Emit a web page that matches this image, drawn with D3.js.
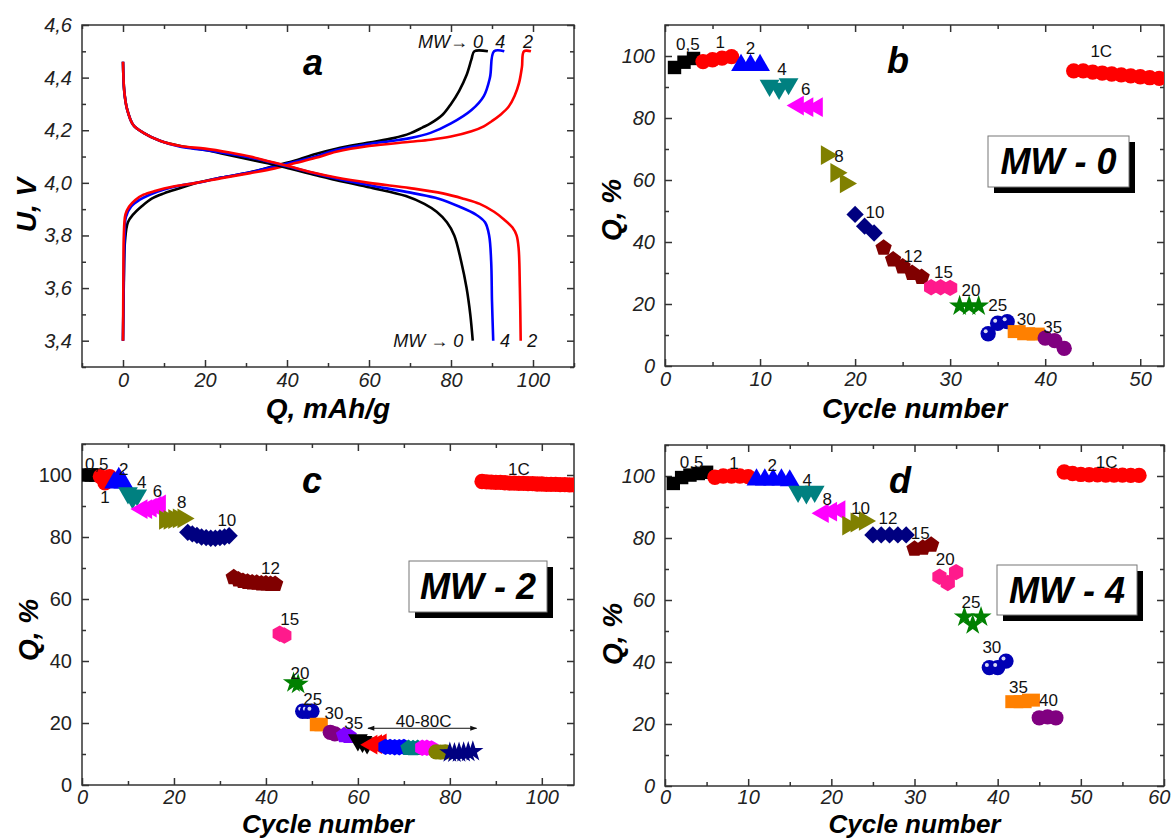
<!DOCTYPE html>
<html>
<head>
<meta charset="utf-8">
<script src="https://cdn.jsdelivr.net/npm/d3@7"></script>
<style>
  body { margin: 0; background: #fff; }
  svg text { font-family: "Liberation Sans", Arial, sans-serif; }
</style>
</head>
<body>
<script>
// ---- panel a: charge / discharge profiles, [Q mAh/g, U V] ----
var chargeMW0 = [[0,3.40],[0.2,3.62],[0.5,3.78],[1.2,3.85],[2.5,3.88],[4.5,3.91],[7,3.94],[10,3.96],[14,3.98],[18,4.0],[24,4.02],[31,4.04],[37,4.065],[42,4.085],[47,4.11],[52,4.13],[60,4.153],[66,4.17],[70,4.188],[73,4.21],[75,4.226],[78,4.26],[80,4.30],[82,4.35],[83.8,4.41],[85,4.47],[85.7,4.50],[89,4.50]];
var chargeMW4 = [[0,3.40],[0.2,3.65],[0.4,3.80],[0.7,3.87],[2,3.91],[4,3.935],[6.5,3.955],[10,3.975],[14,3.99],[18,4.0],[24,4.02],[31,4.04],[37,4.062],[42,4.08],[47,4.10],[52,4.125],[60,4.148],[66,4.16],[70,4.17],[75,4.19],[80,4.226],[85,4.277],[88,4.33],[89.5,4.40],[90.5,4.50],[93,4.50]];
var chargeMW2 = [[0,3.40],[0.1,3.65],[0.2,3.80],[0.6,3.88],[1.5,3.91],[3,3.935],[5,3.955],[8,3.97],[12,3.985],[18,4.0],[24,4.018],[31,4.037],[37,4.055],[42,4.075],[47,4.095],[52,4.118],[60,4.14],[70,4.156],[75,4.164],[80,4.176],[85,4.196],[88,4.215],[90,4.235],[92,4.258],[94,4.288],[95.5,4.33],[96.6,4.38],[97.3,4.44],[97.8,4.50],[99.5,4.50]];
var dischargeMW0 = [[0,4.46],[0.3,4.35],[1,4.28],[2.5,4.22],[5,4.19],[9,4.16],[14,4.14],[20,4.125],[26,4.105],[32,4.085],[38,4.065],[43,4.045],[48,4.025],[55,4.0],[61,3.98],[69,3.95],[73.5,3.92],[76.5,3.89],[79,3.85],[80.8,3.80],[82.5,3.70],[83.8,3.60],[84.7,3.50],[85.3,3.40]];
var dischargeMW4 = [[0,4.46],[0.3,4.35],[1,4.28],[2.5,4.22],[5,4.19],[9,4.16],[14,4.137],[20,4.125],[26,4.11],[32,4.093],[37,4.075],[42,4.055],[47,4.035],[57,4.0],[64,3.98],[71,3.96],[77,3.94],[82,3.91],[86,3.88],[88.3,3.85],[89.3,3.80],[89.8,3.70],[90,3.55],[90.3,3.40]];
var dischargeMW2 = [[0,4.46],[0.3,4.35],[1,4.28],[2.5,4.22],[5,4.19],[9,4.16],[14,4.14],[20,4.13],[26,4.115],[31,4.10],[36,4.08],[40,4.065],[46,4.04],[52,4.02],[60,4.0],[70,3.98],[78,3.96],[83,3.94],[87,3.92],[90.5,3.89],[93,3.86],[95,3.83],[96,3.80],[96.5,3.75],[96.8,3.60],[97,3.40]];
var curveColors = ['#000000', '#0000ff', '#ff0000'];

// ---- panel b: MW-0 rate capability ----
var bCycles = [[1,2,3],[4,5,6,7],[8,9,10],[11,12,13],[14,15,16],[17,18,19],[20,21,22],[23,24,25,26,27],[28,29,30],[31,32,33],[34,35,36],[37,38,39],[40,41,42],[43,44,45,46,47,48,49,50,51,52]];
var bQ = [[96.3,98,99.2],[98.2,98.8,99.3,99.8],[97,97,97],[90.5,89.5,91],[84,83.5,83.5],[68,62.3,58.9],[48.9,45.1,42.9],[38.1,34.3,32.1,30,28.7],[25.4,25.4,25.2],[19.4,19.4,19.4],[10.4,13.8,14.3],[11.1,10.4,10.3],[9,8.2,5.7],[95.2,95.2,94.8,94.5,94.2,93.9,93.6,93.3,93,92.8]];
var bLabels = [['0,5',2.4,104],['1',5.8,104.5],['2',9,102.6],['4',12.3,95.8],['6',14.8,89.3],['8',18.3,67.6],['10',22.1,49.8],['12',26.1,35.6],['15',29.3,30.2],['20',32.2,24.6],['25',35,19.7],['30',38,15.1],['35',40.8,12.5],['1C',45.9,101.7]];

// ---- panel c: MW-2 rate capability ----
var cCycles = [[1,2,3],[4,5,6],[7,8,9],[10,11,12],[13,14,15,16,17],[18,19,20,21,22],[23,24,25,26,27,28,29,30,31,32],[33,34,35,36,37,38,39,40,41,42],[43,44],[46,47],[48,49,50],[51,52],[54,55],[57,58],[60,61,62],[63,64,65],[66,67,68,69,70],[71,72,73],[74,75,76],[77,78,79],[80,81,82,83,84,85],
  [87,88,89,90,91,92,93,94,95,96,97,98,99,100,101,102,103,104,105,106,107]];
var cQ = [[100,100,100],[99.5,97.5,99.5],[97.5,99,97.5],[94.2,92.6,93.5],[89,89,89.5,90,90.5],[85.5,85.5,85.8,86,86],[81.5,81,80.5,80,79.8,79.6,79.6,79.8,80,80.4],[67,66.3,65.8,65.5,65.3,65.2,65,65,64.8,64.8],[48.8,48.2],[33,32.5],[23.8,23.8,23.8],[19.5,19.5],[17,16.5],[16,15.8],[14.5,14,13.5],[13,13.2,13.4],[12.3,12.3,12.2,12.2,12.3],[11.9,11.8,11.9],[12,12,11.8],[10.7,10.6,10.7],[10.4,10.3,10.4,10.5,10.6,10.8],
  [97.9,97.8,97.7,97.6,97.6,97.5,97.4,97.4,97.3,97.3,97.2,97.2,97.1,97.1,97.0,97.0,97.0,96.9,96.9,96.8,96.8]];
var cLabels = [['0,5',3.2,103.5],['1',5,92.8],['2',9.1,101.8],['4',13,97.6],['6',16.4,94.9],['8',21.7,91.4],['10',31.5,85.5],['12',41,69.9],['15',45.2,53.4],['20',47.4,36.2],['25',50.2,27.6],['30',54.8,23.1],['35',59.1,19.9],['40-80C',74.3,20.7],['1C',95,102]];
var cArrow = [[62.2,18.3],[85.8,18.3]];

// ---- panel d: MW-4 rate capability ----
var dCycles = [[1,2,3,4,5],[6,7,8,9,10],[11,12,13,14,15],[16,17,18],[19,20,21],[22,23,24],[25,26,27,28,29],[30,31,32],[33,34,35],[36,37,38],[39,40,41],[42,43,44],[45,46,47],[48,49,50,51,52,53,54,55,56,57]];
var dQ = [[97.6,99.5,100.3,100.8,101.2],[99.6,100,100,100,99.8],[98.8,98.8,98.8,98.8,98.5],[95,94.5,95],[88,88.5,89],[84,85,85.5],[81,81,81,81,81],[76.5,76.8,77.8],[67.5,65.5,69],[54.5,52,54.5],[38.2,38.2,40.3],[27.2,27.2,27.7],[22,22.3,22],[101.3,100.8,100.5,100.4,100.4,100.3,100.3,100.3,100.2,100.2]];
var dLabels = [['0,5',3.2,104.6],['1',8.3,104.3],['2',12.9,103.5],['4',17.1,98.7],['8',19.5,92.5],['10',23.5,89.6],['12',26.8,86.4],['15',30.7,81.7],['20',33.7,73.1],['25',36.8,59.5],['30',39.3,44.7],['35',42.5,32],['40',46.1,27.7],['1C',53.1,104.6]];

// marker style per group (shape, colour)
var styleBD = [['square','#000000'],['circle','#ff0000'],['tri','#0000ff'],['triDown','#008080'],['triLeft','#ff00ff'],['triRight','#808000'],['diamond','#000080'],['pentagon','#800000'],['hexagon','#ff1a8c'],['star','#008000'],['sphere','#0000b4'],['rect','#ff8000'],['circle','#800080'],['circle','#ff0000']];
var styleC = [['square','#000000'],['circle','#ff0000'],['tri','#0000ff'],['triDown','#008080'],['triLeft','#ff00ff'],['triRight','#808000'],['diamond','#000080'],['pentagon','#800000'],['hexagon','#ff1a8c'],['star','#008000'],['sphere','#0000b4'],['square','#ff8000'],['circle','#800080'],['pentagon','#8000ff'],['triDown','#000000'],['triLeft','#ff0000'],['hexagon','#0000ff'],['pentagon','#008080'],['hexagon','#ff00ff'],['circle','#808000'],['star','#000080'],['circle','#ff0000']];

var W = 1172, H = 839;
var svg = d3.select('body').append('svg').attr('width', W).attr('height', H);

function polygon(n) {
  return {
    draw: function(ctx, size) {
      var r = Math.sqrt(2 * size / (n * Math.sin(2 * Math.PI / n)));
      for (var i = 0; i < n; i++) {
        var a = -Math.PI / 2 + i * 2 * Math.PI / n;
        if (i === 0) ctx.moveTo(r * Math.cos(a), r * Math.sin(a));
        else ctx.lineTo(r * Math.cos(a), r * Math.sin(a));
      }
      ctx.closePath();
    }
  };
}
var wideRect = { draw: function(ctx, size) { ctx.rect(-9, -6.5, 18, 13); } };

function markerPath(shape) {
  var sym = d3.symbol();
  if (shape === 'square') return sym.type(d3.symbolSquare).size(180)();
  if (shape === 'circle' || shape === 'sphere') return sym.type(d3.symbolCircle).size(185)();
  if (shape.indexOf('tri') === 0) return sym.type(d3.symbolTriangle).size(170)();
  if (shape === 'diamond') return sym.type(d3.symbolSquare).size(150)();
  if (shape === 'pentagon') return sym.type(polygon(5)).size(175)();
  if (shape === 'hexagon') return sym.type(polygon(6)).size(175)();
  if (shape === 'star') return sym.type(d3.symbolStar).size(140)();
  return sym.type(wideRect)();
}
var rotation = { triDown: 180, triLeft: -90, triRight: 90, diamond: 45 };

function makePanel(o) {
  var g = svg.append('g');
  var x = d3.scaleLinear().domain(o.xDomain).range([o.left, o.right]);
  var y = d3.scaleLinear().domain(o.yDomain).range([o.bottom, o.top]);
  var xPad = o.xPad || 8, titleSize = o.titleSize || 28;

  function styleAxis(sel, italic) {
    sel.select('.domain').remove();
    sel.selectAll('.tick line').attr('stroke', '#333').attr('stroke-width', 1.5);
    sel.selectAll('.tick text').attr('font-size', 20).attr('fill', '#222')
      .attr('font-style', italic ? 'italic' : 'normal');
  }
  var major = 7, minor = 4;
  var xAx = g.append('g').attr('transform', 'translate(0,' + o.bottom + ')')
    .call(d3.axisBottom(x).tickValues(o.xMajor).tickSize(-major).tickPadding(xPad).tickFormat(o.xFmt))
    .call(styleAxis, true);
  // keep a label that sits on the right edge inside the page
  xAx.selectAll('.tick text').filter(function(d) { return x(d) + 12 > W; })
    .attr('text-anchor', 'end').attr('dx', W - 2 - x(o.xDomain[1]));
  g.append('g').attr('transform', 'translate(0,' + o.bottom + ')')
    .call(d3.axisBottom(x).tickValues(o.xMinor).tickSize(-minor).tickFormat(''))
    .call(styleAxis, true);
  g.append('g').attr('transform', 'translate(0,' + o.top + ')')
    .call(d3.axisTop(x).tickValues(o.xMajor).tickSize(-major).tickFormat(''))
    .call(styleAxis, true);
  g.append('g').attr('transform', 'translate(0,' + o.top + ')')
    .call(d3.axisTop(x).tickValues(o.xMinor).tickSize(-minor).tickFormat(''))
    .call(styleAxis, true);
  g.append('g').attr('transform', 'translate(' + o.left + ',0)')
    .call(d3.axisLeft(y).tickValues(o.yMajor).tickSize(-major).tickPadding(10).tickFormat(o.yFmt))
    .call(styleAxis, o.yItalic);
  g.append('g').attr('transform', 'translate(' + o.left + ',0)')
    .call(d3.axisLeft(y).tickValues(o.yMinor).tickSize(-minor).tickFormat(''))
    .call(styleAxis, true);
  g.append('g').attr('transform', 'translate(' + o.right + ',0)')
    .call(d3.axisRight(y).tickValues(o.yMajor).tickSize(-major).tickFormat(''))
    .call(styleAxis, true);
  g.append('g').attr('transform', 'translate(' + o.right + ',0)')
    .call(d3.axisRight(y).tickValues(o.yMinor).tickSize(-minor).tickFormat(''))
    .call(styleAxis, true);

  g.append('rect')
    .attr('x', o.left).attr('y', o.top)
    .attr('width', o.right - o.left).attr('height', o.bottom - o.top)
    .attr('fill', 'none').attr('stroke', '#333').attr('stroke-width', 1.5);

  // axis titles
  g.append('text')
    .attr('x', (o.left + o.right) / 2).attr('y', o.xTitleY)
    .attr('text-anchor', 'middle').attr('font-size', titleSize)
    .attr('font-weight', 'bold').attr('font-style', 'italic')
    .text(o.xTitle);
  g.append('text')
    .attr('transform', 'translate(' + o.yTitleX + ',' + o.yTitleY + ') rotate(-90)')
    .attr('text-anchor', 'middle').attr('font-size', 28)
    .attr('font-weight', 'bold').attr('font-style', 'italic')
    .text(o.yTitle);

  // panel letter
  g.append('text')
    .attr('x', o.letterX).attr('y', o.letterY).attr('dy', '0.35em')
    .attr('text-anchor', 'middle').attr('font-size', 36)
    .attr('font-weight', 'bold').attr('font-style', 'italic')
    .text(o.letter);

  var clipId = 'clip-' + o.letter;
  g.append('clipPath').attr('id', clipId).append('rect')
    .attr('x', o.left).attr('y', o.top)
    .attr('width', o.right - o.left).attr('height', o.bottom - o.top);
  var plot = g.append('g').attr('clip-path', 'url(#' + clipId + ')');

  return { g: g, plot: plot, x: x, y: y };
}

function drawMarkers(p, cycles, values, styles) {
  cycles.forEach(function(cs, i) {
    var shape = styles[i][0], color = styles[i][1];
    var pts = cs.map(function(c, j) { return [c, values[i][j]]; });
    var grp = p.plot.append('g');
    var m = grp.selectAll('g.pt').data(pts).enter().append('g')
      .attr('transform', function(d) {
        return 'translate(' + p.x(d[0]) + ',' + p.y(d[1]) + ')' +
          (rotation[shape] ? ' rotate(' + rotation[shape] + ')' : '');
      });
    m.append('path').attr('d', markerPath(shape)).attr('fill', color);
    if (shape === 'sphere') {
      m.append('circle').attr('cx', -2.5).attr('cy', -2.5).attr('r', 2)
        .attr('fill', '#fff').attr('opacity', 0.85);
    }
  });
}

function drawLabels(p, labels) {
  p.g.selectAll(null).data(labels).enter().append('text')
    .attr('x', function(d) { return p.x(d[1]); })
    .attr('y', function(d) { return p.y(d[2]); })
    .attr('dy', '0.35em').attr('text-anchor', 'middle')
    .attr('font-size', 17).attr('fill', '#111')
    .text(function(d) { return d[0]; });
}

function drawBox(x0, y0, w, h, label) {
  svg.append('rect').attr('x', x0 + 6).attr('y', y0 + 6).attr('width', w).attr('height', h).attr('fill', '#000');
  svg.append('rect').attr('x', x0).attr('y', y0).attr('width', w).attr('height', h)
    .attr('fill', '#fff').attr('stroke', '#777').attr('stroke-width', 1);
  svg.append('text').attr('x', x0 + w / 2).attr('y', y0 + h / 2).attr('dy', '0.36em')
    .attr('text-anchor', 'middle').attr('font-size', 36)
    .attr('font-weight', 'bold').attr('font-style', 'italic')
    .text(label);
}

var comma = function(d) { return d3.format('.1f')(d).replace('.', ','); };
var intFmt = d3.format('d');

// ---------- panel a ----------
var pa = makePanel({
  left: 82, right: 574, top: 25, bottom: 367,
  xDomain: [-10, 110], yDomain: [3.3, 4.6],
  xMajor: [0, 20, 40, 60, 80, 100], xMinor: [-10, 10, 30, 50, 70, 90, 110],
  yMajor: [3.4, 3.6, 3.8, 4.0, 4.2, 4.4, 4.6], yMinor: [3.3, 3.5, 3.7, 3.9, 4.1, 4.3, 4.5],
  xFmt: intFmt, yFmt: comma, yItalic: true, xPad: 6,
  xTitle: 'Q, mAh/g', xTitleY: 418, yTitle: 'U, V', yTitleX: 36, yTitleY: 205,
  letter: 'a', letterX: 313, letterY: 62
});
var line = d3.line().x(function(d) { return pa.x(d[0]); }).y(function(d) { return pa.y(d[1]); })
  .curve(d3.curveCatmullRom.alpha(0.5));
[chargeMW0, chargeMW4, chargeMW2].forEach(function(s, i) {
  pa.plot.append('path').attr('d', line(s)).attr('fill', 'none')
    .attr('stroke', curveColors[i]).attr('stroke-width', 2.6);
});
[dischargeMW0, dischargeMW4, dischargeMW2].forEach(function(s, i) {
  pa.plot.append('path').attr('d', line(s)).attr('fill', 'none')
    .attr('stroke', curveColors[i]).attr('stroke-width', 2.6);
});
var aLabels = [['MW\u2192 0', 87.8, 4.535, 'end'], ['4', 92, 4.535, 'middle'], ['2', 98.8, 4.535, 'middle'],
               ['MW \u2192 0', 83, 3.40, 'end'], ['4', 93.2, 3.40, 'middle'], ['2', 99.8, 3.40, 'middle']];
pa.g.selectAll(null).data(aLabels).enter().append('text')
  .attr('x', function(d) { return pa.x(d[1]); })
  .attr('y', function(d) { return pa.y(d[2]); })
  .attr('dy', '0.35em').attr('text-anchor', function(d) { return d[3]; })
  .attr('font-size', 18).attr('font-style', 'italic').attr('fill', '#111')
  .text(function(d) { return d[0]; });

// ---------- panel b ----------
var pb = makePanel({
  left: 665, right: 1164, top: 25, bottom: 366,
  xDomain: [0, 52.5], yDomain: [0, 110],
  xMajor: [0, 10, 20, 30, 40, 50], xMinor: [5, 15, 25, 35, 45],
  yMajor: [0, 20, 40, 60, 80, 100], yMinor: [10, 30, 50, 70, 90, 110],
  xFmt: intFmt, yFmt: intFmt, yItalic: true, xPad: 6,
  xTitle: 'Cycle number', xTitleY: 418, yTitle: 'Q, %', yTitleX: 621, yTitleY: 210,
  letter: 'b', letterX: 898, letterY: 60
});
drawMarkers(pb, bCycles, bQ, styleBD);
drawLabels(pb, bLabels);
drawBox(988, 136, 141, 51, 'MW - 0');

// ---------- panel c ----------
var pc = makePanel({
  left: 82, right: 574, top: 444, bottom: 785,
  xDomain: [0, 107], yDomain: [0, 110],
  xMajor: [0, 20, 40, 60, 80, 100], xMinor: [10, 30, 50, 70, 90],
  yMajor: [0, 20, 40, 60, 80, 100], yMinor: [10, 30, 50, 70, 90, 110],
  xFmt: intFmt, yFmt: intFmt, yItalic: false, xPad: 5,
  xTitle: 'Cycle number', xTitleY: 833, titleSize: 26, yTitle: 'Q, %', yTitleX: 38, yTitleY: 630,
  letter: 'c', letterX: 312, letterY: 480
});
drawMarkers(pc, cCycles, cQ, styleC);
drawLabels(pc, cLabels);
svg.append('defs').append('marker').attr('id', 'arrowhead')
  .attr('viewBox', '0 0 10 10').attr('refX', 9).attr('refY', 5)
  .attr('markerWidth', 9).attr('markerHeight', 7).attr('orient', 'auto-start-reverse')
  .append('path').attr('d', 'M0,1.5L10,5L0,8.5z').attr('fill', '#111');
pc.g.append('line')
  .attr('x1', pc.x(cArrow[0][0])).attr('y1', pc.y(cArrow[0][1]))
  .attr('x2', pc.x(cArrow[1][0])).attr('y2', pc.y(cArrow[1][1]))
  .attr('stroke', '#111').attr('stroke-width', 1)
  .attr('marker-start', 'url(#arrowhead)').attr('marker-end', 'url(#arrowhead)');
drawBox(409, 561, 138, 51, 'MW - 2');

// ---------- panel d ----------
var pd = makePanel({
  left: 665, right: 1164, top: 445, bottom: 786,
  xDomain: [0, 60], yDomain: [0, 110],
  xMajor: [0, 10, 20, 30, 40, 50, 60], xMinor: [5, 15, 25, 35, 45, 55],
  yMajor: [0, 20, 40, 60, 80, 100], yMinor: [10, 30, 50, 70, 90, 110],
  xFmt: intFmt, yFmt: intFmt, yItalic: true, xPad: 4,
  xTitle: 'Cycle number', xTitleY: 833, titleSize: 26, yTitle: 'Q, %', yTitleX: 622, yTitleY: 634,
  letter: 'd', letterX: 900, letterY: 480
});
drawMarkers(pd, dCycles, dQ, styleBD);
drawLabels(pd, dLabels);
drawBox(997, 565, 140, 50, 'MW - 4');
</script>
</body>
</html>
